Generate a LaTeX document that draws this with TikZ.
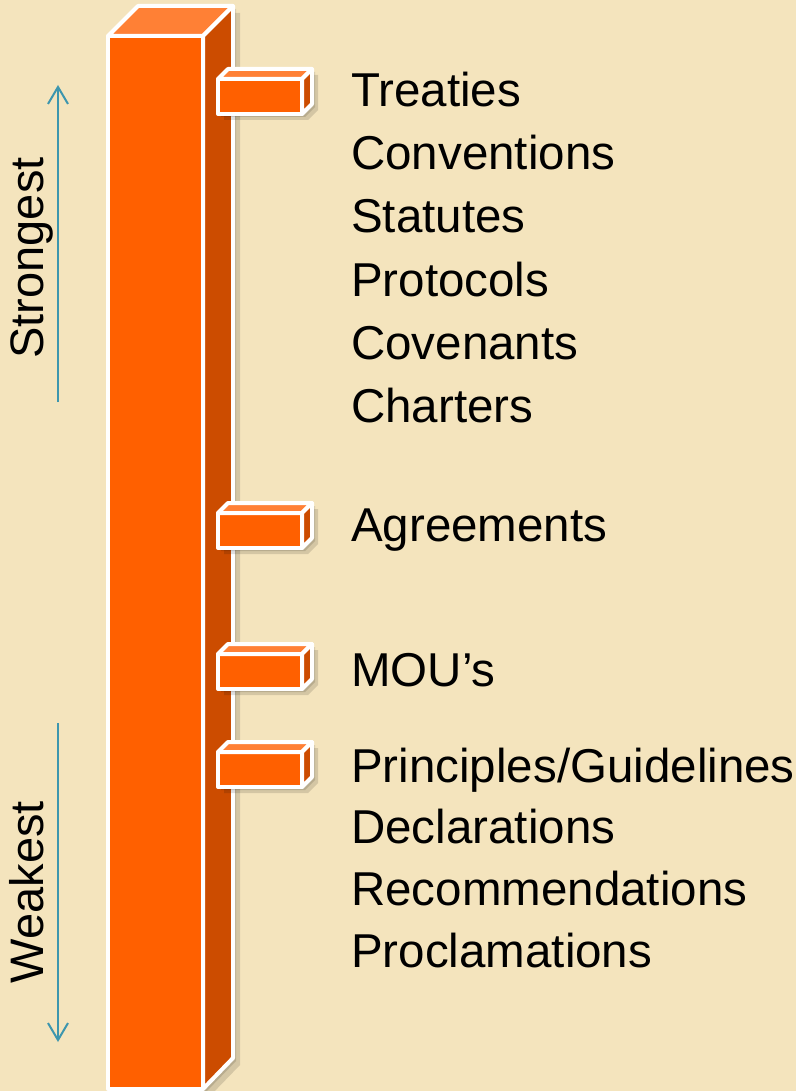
\documentclass[tikz,border=0pt]{standalone}
\usepackage{fontspec}
\setmainfont{Liberation Sans}
\usetikzlibrary{arrows.meta}

\definecolor{paper}{HTML}{F4E4BD}
\definecolor{barfront}{HTML}{FF6000}
\definecolor{bartop}{HTML}{FF8035}
\definecolor{barside}{HTML}{CC4C00}
\definecolor{arrowblue}{HTML}{3D96AE}

\begin{document}
\begin{tikzpicture}[x=1pt, y=-1pt,
    face/.style={draw=white, line width=4pt, line join=round},
    shade/.style={fill=black, opacity=0.13},
    item/.style={anchor=base west, inner sep=0pt, font=\fontsize{47.5}{56}\selectfont},
    sidetext/.style={anchor=base, inner sep=0pt, rotate=90, font=\fontsize{47}{56}\selectfont},
    scale arrow/.style={draw=arrowblue, line width=2pt, -{Straight Barb[length=17pt, width=20pt]}}]

    % Background
    \fill[paper] (0,0) rectangle (796,1091);
    \useasboundingbox (0,0) rectangle (796,1091);

    % Bar shadow
    \foreach \s in {3,7} {
        \fill[shade, shift={(\s,\s)}] (108,36) -- (138,6) -- (233,6) -- (233,1058) -- (203,1089) -- (108,1089) -- cycle;
    }

    % Bar
    \filldraw[face, fill=barfront] (108,36) rectangle (203,1089);
    \filldraw[face, fill=bartop] (108,36) -- (138,6) -- (233,6) -- (203,36) -- cycle;
    \filldraw[face, fill=barside] (203,36) -- (233,6) -- (233,1058) -- (203,1089) -- cycle;

    % Small boxes
    \foreach \y in {79,513,654,752} {
        \foreach \s in {3,6} {
            \fill[shade, shift={(\s,\s)}] (218,\y) -- (228,\y-10) -- (312,\y-10) -- (312,\y+25) -- (302,\y+35) -- (218,\y+35) -- cycle;
        }
        \filldraw[face, fill=barfront] (218,\y) rectangle (302,\y+35);
        \filldraw[face, fill=bartop] (218,\y) -- (228,\y-10) -- (312,\y-10) -- (302,\y) -- cycle;
        \filldraw[face, fill=barside] (302,\y) -- (312,\y-10) -- (312,\y+25) -- (302,\y+35) -- cycle;
    }

    % Instruments
    \node[item] (treaties) at (351,107) {Treaties};
    \node[item] (conventions) at (351,170) {Conventions};
    \node[item] (statutes) at (351,233) {Statutes};
    \node[item] (protocols) at (351,296) {Protocols};
    \node[item] (covenants) at (351,359) {Covenants};
    \node[item] (charters) at (351,422) {Charters};
    \node[item] (agreements) at (351,541) {Agreements};
    \node[item] (mous) at (351,686) {MOU’s};
    \node[item] (principles) at (351,782) {Principles/Guidelines};
    \node[item] (declarations) at (351,843) {Declarations};
    \node[item] (recommendations) at (351,905) {Recommendations};
    \node[item] (proclamations) at (351,967) {Proclamations};

    % Strength scale
    \node[sidetext] (strongest) at (43,258) {Strongest};
    \node[sidetext] (weakest) at (43,892) {Weakest};

    \coordinate (strongtail) at (58,402);
    \coordinate (stronghead) at (58,85);
    \coordinate (weaktail) at (58,723);
    \coordinate (weakhead) at (58,1042);

    \draw[scale arrow] (strongtail) -- (stronghead);
    \draw[scale arrow] (weaktail) -- (weakhead);

\end{tikzpicture}
\end{document}
